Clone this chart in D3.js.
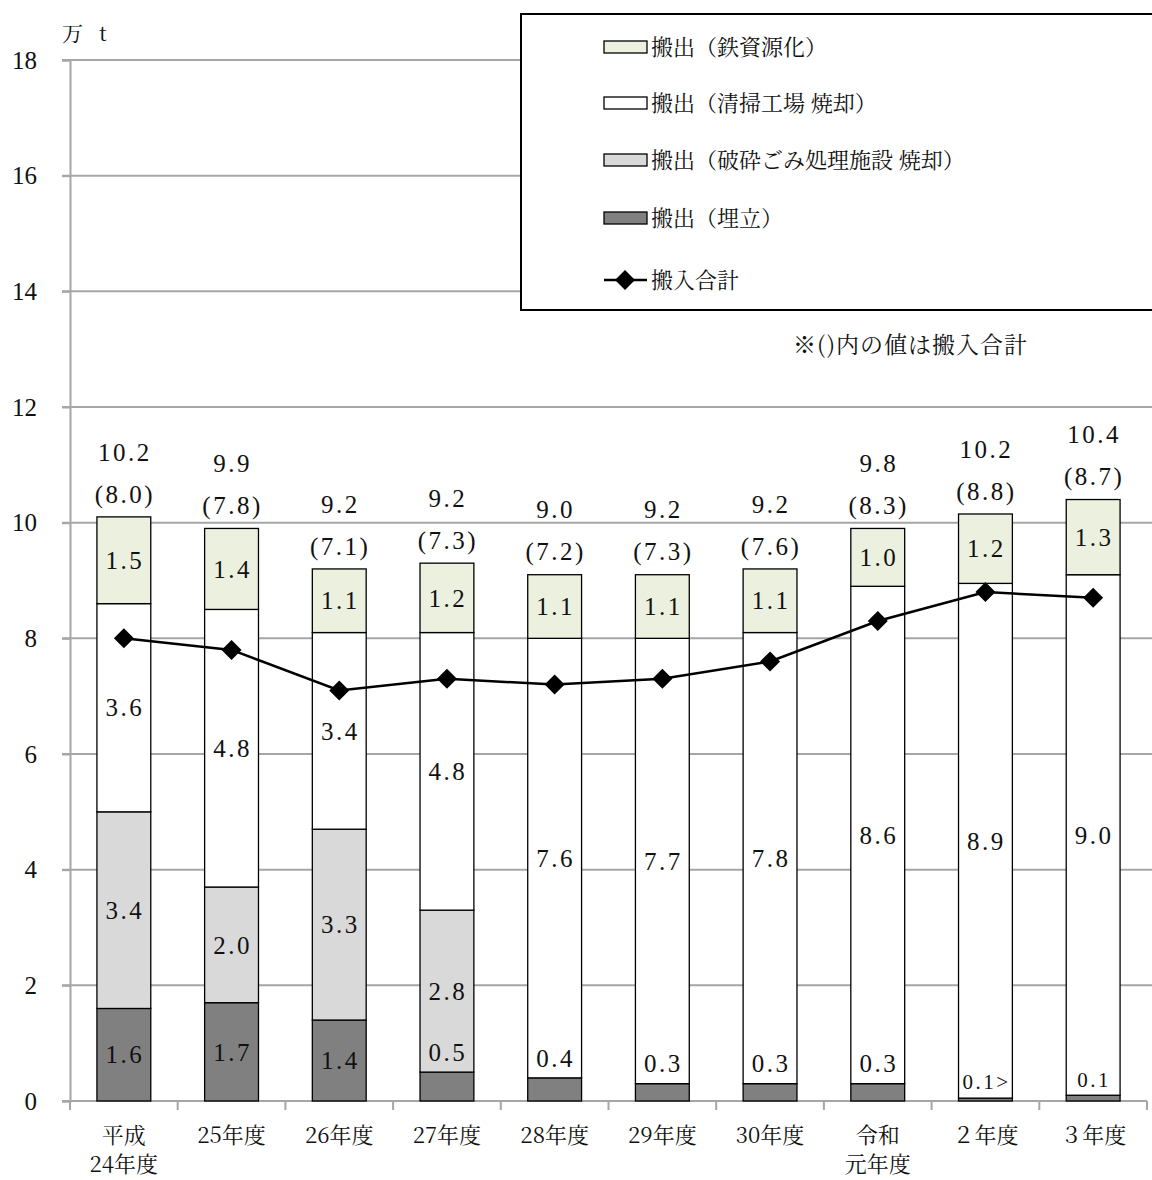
<!DOCTYPE html>
<html>
<head>
<meta charset="utf-8">
<script src="https://cdn.jsdelivr.net/npm/d3@7"></script>
<style>
  html, body { margin: 0; padding: 0; background: #fff; }
  svg { display: block; }
  .num { font-family: "Liberation Serif", "DejaVu Serif", "Noto Sans CJK JP", serif; }
  .jp  { font-family: "Noto Serif CJK JP", "Liberation Serif", "Noto Sans CJK JP", serif; }
</style>
</head>
<body>
<svg id="chart" width="1152" height="1180"></svg>
<script>
// Fiscal years
const categories = ["平成\n24年度", "25年度", "26年度", "27年度", "28年度", "29年度", "30年度", "令和\n元年度", "２年度", "３年度"];

// Outgoing amounts (10,000 t), stacked bottom to top
const landfill   = [1.6, 1.7, 1.4, 0.5, 0.4, 0.3, 0.3, 0.3, 0.05, 0.1];   // 搬出（埋立）
const crushInc   = [3.4, 2.0, 3.3, 2.8, 0, 0, 0, 0, 0, 0];               // 搬出（破砕ごみ処理施設 焼却）
const plantInc   = [3.6, 4.8, 3.4, 4.8, 7.6, 7.7, 7.8, 8.6, 8.9, 9.0];  // 搬出（清掃工場 焼却）
const ironRes    = [1.5, 1.4, 1.1, 1.2, 1.1, 1.1, 1.1, 1.0, 1.2, 1.3];  // 搬出（鉄資源化）
const totals     = [10.2, 9.9, 9.2, 9.2, 9.0, 9.2, 9.2, 9.8, 10.2, 10.4];
const landfillLabels = ["1.6", "1.7", "1.4", "0.5", "0.4", "0.3", "0.3", "0.3", "0.1>", "0.1"];

// Incoming total (line)
const incoming = [8.0, 7.8, 7.1, 7.3, 7.2, 7.3, 7.6, 8.3, 8.8, 8.7];

const yTicks = [0, 2, 4, 6, 8, 10, 12, 14, 16, 18];

const seriesKeys = ["landfill", "crushInc", "plantInc", "ironRes"];
const seriesNames = {
  ironRes: "搬出（鉄資源化）",
  plantInc: "搬出（清掃工場 焼却）",
  crushInc: "搬出（破砕ごみ処理施設 焼却）",
  landfill: "搬出（埋立）"
};
const fills = { landfill: "#808080", crushInc: "#d9d9d9", plantInc: "#ffffff", ironRes: "#ebf1de" };

const rows = categories.map((c, i) => ({
  cat: c, landfill: landfill[i], crushInc: crushInc[i], plantInc: plantInc[i], ironRes: ironRes[i]
}));

const svg = d3.select("#chart");
const plotLeft = 70, plotRight = 1147, plotTop = 60, plotBottom = 1101;

const x = d3.scaleBand().domain(categories).range([plotLeft, plotRight]).paddingInner(0.5).paddingOuter(0.25);
const y = d3.scaleLinear().domain([0, 18]).range([plotBottom, plotTop]);
const step = x.step();
const gridColor = "#a6a6a6";

// Horizontal gridlines
svg.append("g").selectAll("line").data(yTicks.filter(t => t > 0)).join("line")
  .attr("x1", plotLeft - 8).attr("x2", 1152)
  .attr("y1", d => y(d)).attr("y2", d => y(d))
  .attr("stroke", gridColor).attr("stroke-width", 2);

// Y axis
const yAxis = svg.append("g").attr("transform", `translate(${plotLeft},0)`)
  .call(d3.axisLeft(y).tickValues(yTicks).tickSize(8).tickFormat(d3.format("d")));
yAxis.select(".domain").attr("stroke", gridColor).attr("stroke-width", 2);
yAxis.selectAll(".tick line").attr("stroke", gridColor).attr("stroke-width", 2);
yAxis.selectAll(".tick text").attr("class", "num").attr("font-size", 25).attr("fill", "#111")
  .attr("x", -33).attr("text-anchor", "end");

// X axis baseline with boundary ticks
svg.append("line").attr("x1", plotLeft - 8).attr("x2", plotRight).attr("y1", plotBottom).attr("y2", plotBottom)
  .attr("stroke", gridColor).attr("stroke-width", 2);
svg.append("g").selectAll("line").data(d3.range(categories.length + 1)).join("line")
  .attr("x1", i => plotLeft + i * step).attr("x2", i => plotLeft + i * step)
  .attr("y1", plotBottom).attr("y2", plotBottom + 9)
  .attr("stroke", gridColor).attr("stroke-width", 2);

// Category labels
const xl = svg.append("g").selectAll("text").data(categories).join("text")
  .attr("class", "jp").attr("font-size", 22).attr("fill", "#111").attr("text-anchor", "middle")
  .attr("x", d => x(d) + x.bandwidth() / 2).attr("y", 1143);
xl.each(function(d) {
  const lines = d.split("\n");
  d3.select(this).selectAll("tspan").data(lines).join("tspan")
    .attr("x", x(d) + x.bandwidth() / 2).attr("dy", (l, i) => i === 0 ? 0 : 29).text(l => l);
});

// Stacked bars
const stacked = d3.stack().keys(seriesKeys)(rows);
const barG = svg.append("g");
stacked.forEach(layer => {
  barG.append("g").selectAll("rect").data(layer).join("rect")
    .attr("x", d => x(d.data.cat)).attr("width", x.bandwidth())
    .attr("y", d => y(d[1])).attr("height", d => y(d[0]) - y(d[1]))
    .attr("fill", fills[layer.key])
    .attr("stroke", d => (d[1] - d[0]) > 0 ? "#000" : "none").attr("stroke-width", 1.3);
});

const fmt = v => d3.format(".1f")(v);

// Segment value labels
const labelG = svg.append("g").attr("class", "num").attr("font-size", 25).attr("fill", "#111")
  .attr("text-anchor", "middle").attr("letter-spacing", "0.1em");
stacked.forEach(layer => {
  layer.forEach((d, i) => {
    const v = d[1] - d[0];
    if (v <= 0) return;
    const cx = x(d.data.cat) + x.bandwidth() / 2 + 1;
    let cy, txt = fmt(v);
    if (layer.key === "landfill") {
      txt = landfillLabels[i];
      cy = v <= 0.5 ? y(d[1]) - (v < 0.2 ? 16 : 20) : (y(d[0]) + y(d[1])) / 2;
    } else {
      cy = (y(d[0]) + y(d[1])) / 2;
    }
    labelG.append("text").attr("x", cx).attr("y", cy).attr("dy", "0.35em")
      .attr("font-size", layer.key === "landfill" && v < 0.2 ? 21 : 25).text(txt);
  });
});

// Totals with incoming total in parentheses
const topG = svg.append("g").attr("class", "num").attr("font-size", 25).attr("fill", "#111")
  .attr("text-anchor", "middle").attr("letter-spacing", "0.1em");
categories.forEach((c, i) => {
  const stackTop = y(landfill[i] + crushInc[i] + plantInc[i] + ironRes[i]);
  const cx = x(c) + x.bandwidth() / 2 + 1;
  topG.append("text").attr("x", cx).attr("y", stackTop - 65).attr("dy", "0.35em").text(fmt(totals[i]));
  topG.append("text").attr("x", cx).attr("y", stackTop - 23).attr("dy", "0.35em").text("(" + fmt(incoming[i]) + ")");
});

// Incoming total line with diamond markers
const line = d3.line().x((d, i) => x(categories[i]) + x.bandwidth() / 2).y(d => y(d));
svg.append("path").datum(incoming).attr("d", line)
  .attr("fill", "none").attr("stroke", "#000").attr("stroke-width", 2.5);
const diamond = d3.symbol().type(d3.symbolSquare).size(200);
svg.append("g").selectAll("path").data(incoming).join("path")
  .attr("d", diamond)
  .attr("transform", (d, i) => `translate(${x(categories[i]) + x.bandwidth() / 2},${y(d)}) rotate(45)`)
  .attr("fill", "#000");

// Legend
const lg = svg.append("g");
lg.append("rect").attr("x", 521).attr("y", 14).attr("width", 660).attr("height", 296)
  .attr("fill", "#fff").attr("stroke", "#000").attr("stroke-width", 2);
const legendKeys = ["ironRes", "plantInc", "crushInc", "landfill"];
const legendY = [47, 103, 160, 218];
legendKeys.forEach((k, i) => {
  lg.append("rect").attr("x", 604).attr("y", legendY[i] - 6).attr("width", 43).attr("height", 12)
    .attr("fill", fills[k]).attr("stroke", "#000").attr("stroke-width", 1.3);
  lg.append("text").attr("class", "jp").attr("x", 651).attr("y", legendY[i]).attr("dy", "0.36em")
    .attr("font-size", 22).attr("fill", "#111").text(seriesNames[k]);
});
lg.append("line").attr("x1", 604).attr("x2", 647).attr("y1", 280).attr("y2", 280)
  .attr("stroke", "#000").attr("stroke-width", 2.5);
lg.append("path").attr("d", diamond).attr("transform", "translate(625,280) rotate(45)").attr("fill", "#000");
lg.append("text").attr("class", "jp").attr("x", 651).attr("y", 280).attr("dy", "0.36em")
  .attr("font-size", 22).attr("fill", "#111").text("搬入合計");

// Note and unit
svg.append("text").attr("class", "jp").attr("x", 793).attr("y", 345).attr("dy", "0.36em")
  .attr("font-size", 23).attr("letter-spacing", 1).attr("fill", "#111").text("※()内の値は搬入合計");
const unit = svg.append("text").attr("class", "jp").attr("y", 33).attr("dy", "0.36em")
  .attr("font-size", 21).attr("fill", "#111");
unit.append("tspan").attr("x", 62).text("万");
unit.append("tspan").attr("x", 99).text("t");
</script>
</body>
</html>
